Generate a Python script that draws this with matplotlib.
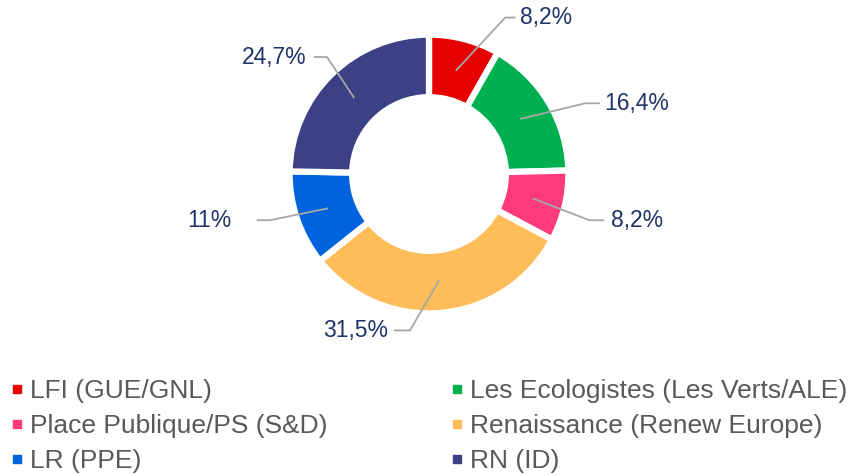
import numpy as np
import matplotlib
matplotlib.use('Agg')
import matplotlib.pyplot as plt
from matplotlib.lines import Line2D

plt.rcParams['font.family'] = ['Liberation Sans', 'DejaVu Sans']

# données
partis = ['LFI (GUE/GNL)', 'Les Ecologistes (Les Verts/ALE)', 'Place Publique/PS (S&D)',
          'Renaissance (Renew Europe)', 'LR (PPE)', 'RN (ID)']
parts = [8.2, 16.4, 8.2, 31.5, 11, 24.7]
etiquettes = ['8,2%', '16,4%', '8,2%', '31,5%', '11%', '24,7%']
couleurs = ['#E60000', '#00B050', '#FF3B7C', '#FFBD5A', '#0063DE', '#3C4084']

# position des étiquettes : (coude x, coude y, fin ligne x, texte x, alignement)
pos_etiq = [(0.56, 1.15, 0.63, 0.67, 'left'),
            (1.15, 0.52, 1.25, 1.29, 'left'),
            (1.18, -0.34, 1.28, 1.34, 'left'),
            (-0.14, -1.15, -0.25, -0.30, 'right'),
            (-1.17, -0.34, -1.26, -1.45, 'right'),
            (-0.75, 0.86, -0.84, -0.90, 'right')]

fig = plt.figure(figsize=(8.54, 4.75), dpi=100)
ax = fig.add_axes([0, 0, 1, 1])

wedges, _ = ax.pie(parts, colors=couleurs, startangle=90, counterclock=False,
                   radius=1.025, wedgeprops=dict(width=0.46, edgecolor='white', linewidth=4.5))

R = 136.0
ax.set_aspect('auto')
ax.set_xlim(-429 / R, (854 - 429) / R)
ax.set_ylim((174 - 475) / R, 174 / R)
ax.axis('off')

for w, lab, (ex, ey, fx, tx, ha) in zip(wedges, etiquettes, pos_etiq):
    ang = np.deg2rad((w.theta1 + w.theta2) / 2)
    sx, sy = 0.79 * np.cos(ang), 0.79 * np.sin(ang)
    ax.plot([sx, ex, fx], [sy, ey, ey], color='#A6A6A6', lw=1.3, zorder=3)
    ax.text(tx, ey, lab, ha=ha, va='center', fontsize=16.5, color='#1F3469')

# légende : deux colonnes, remplies ligne par ligne
for col, x0 in [(0, 10.0), (1, 450.0)]:
    idx = [i for i in range(len(partis)) if i % 2 == col]
    handles = [Line2D([], [], marker='s', ls='', color=couleurs[i], markersize=5.8) for i in idx]
    fig.legend(handles, [partis[i] for i in idx], loc='upper left',
               bbox_to_anchor=(x0 / 854, 1 - 379 / 475), frameon=False, fontsize=19,
               labelcolor='#595959', handlelength=0.5, handletextpad=0.25,
               labelspacing=0.42, borderaxespad=0, borderpad=0)

fig.savefig('out.png', dpi=100)
